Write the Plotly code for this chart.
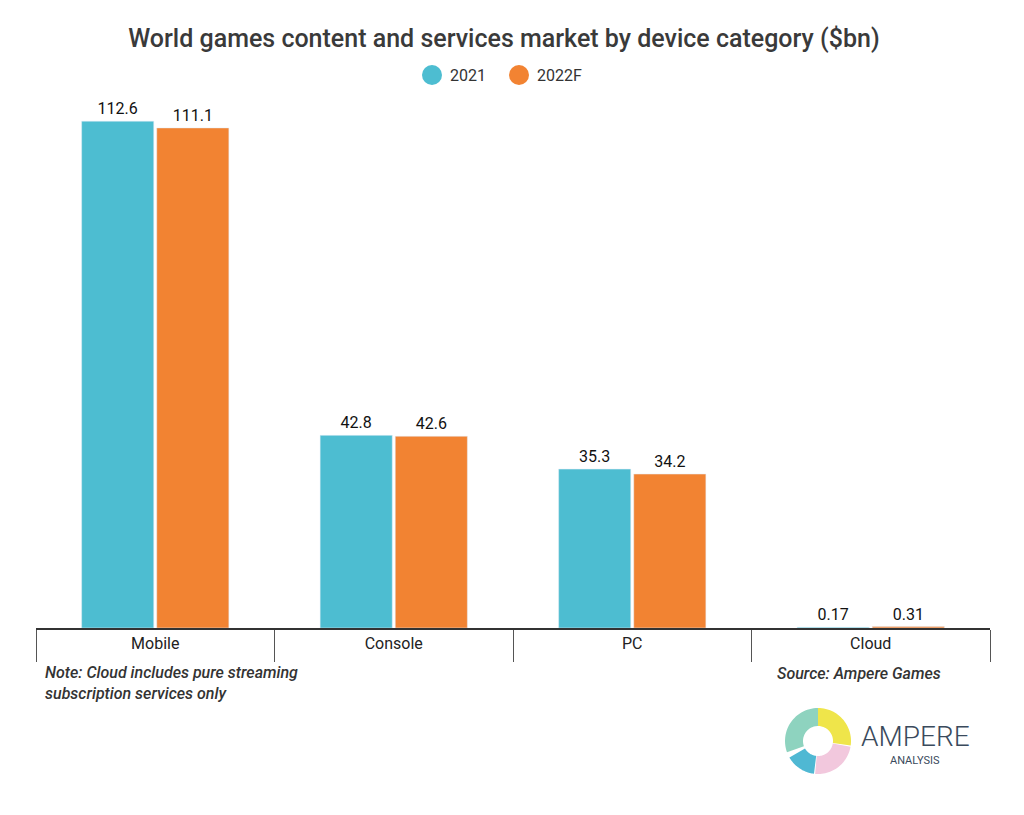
import numpy as np
import plotly.graph_objects as go

categories = ['Mobile', 'Console', 'PC', 'Cloud']
values_2021 = [112.6, 42.8, 35.3, 0.17]
values_2022 = [111.1, 42.6, 34.2, 0.31]
labels_2021 = ['112.6', '42.8', '35.3', '0.17']
labels_2022 = ['111.1', '42.6', '34.2', '0.31']

W, H = 1024, 815
OFF = 8  # page offset in the screenshot
L, R, T, B = 36 - OFF, 34 + OFF, 100 - OFF, 187 + OFF

fig = go.Figure()
fig.add_trace(go.Bar(x=categories, y=values_2021, name='2021', marker=dict(color='#4dbdd1'),
                     text=labels_2021, textposition='outside', cliponaxis=False,
                     textfont=dict(size=16, color='#111')))
fig.add_trace(go.Bar(x=categories, y=values_2022, name='2022F', marker=dict(color='#f28332'),
                     text=labels_2022, textposition='outside', cliponaxis=False,
                     textfont=dict(size=16, color='#111')))

# screenshot pixel -> paper coordinates
def px(x):
    return (x - OFF - L) / (W - L - R)

def py(y):
    return (H - B - (y - OFF)) / (H - T - B)

# logo donut
def arc_path(a0, a1, cx=818, cy=741, ro=33, ri=15):
    a = np.radians(np.linspace(a0, a1, 30))
    outer = [(px(cx + ro * np.cos(t)), py(cy - ro * np.sin(t))) for t in a]
    inner = [(px(cx + ri * np.cos(t)), py(cy - ri * np.sin(t))) for t in a[::-1]]
    pts = outer + inner
    return 'M ' + ' L '.join(f'{x:.5f},{y:.5f}' for x, y in pts) + ' Z'

shapes = []
for a0, a1, col in [(90, -8, '#efe54a'), (-10, -95, '#f2c8dd'), (-97, -150, '#4fb8d3'),
                    (-160, -270, '#8ed3bf')]:
    shapes.append(dict(type='path', xref='paper', yref='paper', path=arc_path(a0, a1),
                       fillcolor=col, line=dict(width=0)))

# legend markers drawn as circles
for cx, col in [(432, '#4dbdd1'), (519, '#f28332')]:
    shapes.append(dict(type='circle', xref='paper', yref='paper',
                       x0=px(cx - 10), x1=px(cx + 10), y0=py(85), y1=py(65),
                       fillcolor=col, line=dict(width=0)))

annotations = [
    dict(text='<i>Note: Cloud includes pure streaming<br>subscription services only</i>',
         x=px(43), y=py(661), xref='paper', yref='paper', xanchor='left', yanchor='top',
         align='left', showarrow=False, font=dict(size=16, color='#333', weight=500)),
    dict(text='<i>Source: Ampere Games</i>', x=px(943), y=py(662), xref='paper', yref='paper',
         xanchor='right', yanchor='top', showarrow=False,
         font=dict(size=16, color='#333', weight=500)),
    dict(text='AMPERE', x=px(859), y=py(736), xref='paper', yref='paper', xanchor='left',
         yanchor='middle', showarrow=False, font=dict(size=28, color='#3a4a5c', weight=300)),
    dict(text='ANALYSIS', x=px(942), y=py(760), xref='paper', yref='paper', xanchor='right',
         yanchor='middle', showarrow=False, font=dict(size=11, color='#3a4a5c')),
    dict(text='2021', x=px(448), y=py(75), xref='paper', yref='paper', xanchor='left',
         yanchor='middle', showarrow=False, font=dict(size=16, color='#333')),
    dict(text='2022F', x=px(535), y=py(75), xref='paper', yref='paper', xanchor='left',
         yanchor='middle', showarrow=False, font=dict(size=16, color='#333')),
]

fig.update_layout(
    width=W, height=H,
    margin=dict(l=L, r=R, t=T, b=B),
    paper_bgcolor='white', plot_bgcolor='white',
    font=dict(family='Roboto', color='#333'),
    title=dict(text='World games content and services market by device category ($bn)',
               x=px(498), xanchor='center', y=1 - (38 - OFF) / H, yanchor='middle',
               font=dict(size=25, color='#3a3a3a', weight=500)),
    showlegend=False,
    bargap=0.37, bargroupgap=0.04,
    xaxis=dict(showline=True, linecolor='#333', linewidth=1.5, ticks='outside',
               tickson='boundaries', ticklen=32, tickcolor='#555', tickwidth=1,
               tickfont=dict(size=16, color='#222'), showgrid=False),
    yaxis=dict(range=[0, 117.3], visible=False),
    shapes=shapes, annotations=annotations,
)

fig.write_html('out.html')
